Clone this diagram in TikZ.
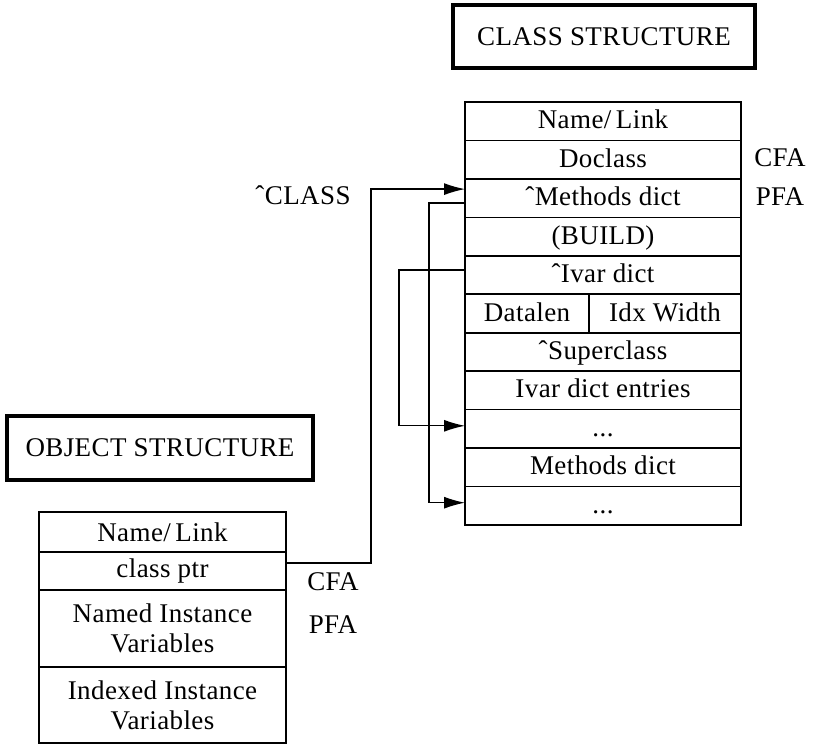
\documentclass[tikz,border=0pt]{standalone}
\usepackage{fontspec}
\setmainfont[LetterSpace=1.5]{Liberation Serif}
\usetikzlibrary{arrows.meta,calc}
\begin{document}
\begin{tikzpicture}[x=1pt,y=-1pt,
  font=\fontsize{27}{30}\selectfont,
  cell/.style={draw,line width=1.6pt,minimum width=276pt,minimum height=38.45pt,inner sep=0pt,outer sep=0pt,anchor=center,text height=19pt,text depth=4pt},
  ocell/.style={draw,line width=1.6pt,minimum width=247pt,inner sep=0pt,outer sep=0pt,anchor=center,align=center},
  titlebox/.style={draw,line width=3.5pt,inner sep=0pt,outer sep=0pt,anchor=center},
  lbl/.style={inner sep=0pt,anchor=center},
  conn/.style={line width=1.3pt,-{Latex[length=21pt,width=12pt]}}]
\useasboundingbox (0,0) rectangle (817,746);
\newcommand{\hatc}{\symbol{"02C6}}
% titles
\node[titlebox,minimum width=302pt,minimum height=63pt] (ctitle) at (604,36.5) {CLASS STRUCTURE};
\node[titlebox,minimum width=306pt,minimum height=64pt] (otitle) at (160,448) {OBJECT STRUCTURE};
% class structure
\node[cell] (cname)  at (603,121.2) {Name/\,Link};
\node[cell] (cdo)    at (603,159.7) {Doclass};
\node[cell] (cmeth)  at (603,198.1) {\hatc Methods dict};
\node[cell] (cbuild) at (603,236.6) {(BUILD)};
\node[cell] (civar)  at (603,275.0) {\hatc Ivar dict};
\node[cell,minimum width=124pt] (cdl) at (527,313.5) {Datalen};
\node[cell,minimum width=152pt] (ciw) at (665,313.5) {Idx Width};
\node[cell] (csup)   at (603,351.9) {\hatc Superclass};
\node[cell] (cent)   at (603,390.4) {Ivar dict entries};
\node[cell] (cdotsa) at (603,428.8) {...};
\node[cell] (cmd)    at (603,467.3) {Methods dict};
\node[cell] (cdotsb) at (603,505.7) {...};
\node[lbl] (ccfa) at (780,158) {CFA};
\node[lbl] (cpfa) at (780,197) {PFA};
\node[lbl] (cclass) at (303,195) {\hatc CLASS};
% object structure
\node[ocell,minimum height=40pt] (oname)  at (162.5,532) {Name/\,Link};
\node[ocell,minimum height=38pt] (optr)   at (162.5,571) {class ptr};
\node[ocell,minimum height=77pt] (onamed) at (162.5,628.5) {Named Instance\\Variables};
\node[ocell,minimum height=76pt] (oidx)   at (162.5,705) {Indexed Instance\\Variables};
\node[lbl] (ocfa) at (333,582) {CFA};
\node[lbl] (opfa) at (333,625) {PFA};
% connectors
\draw[conn] ($(optr.east)+(0,-8)$) -- ++(85,0) |- ($(cmeth.west)+(0,-9)$);
\draw[conn] ($(cmeth.west)+(0,5)$) -- ++(-36,0) |- ($(cdotsb.west)+(0,-3)$);
\draw[conn] ($(civar.west)+(0,-5)$) -- ++(-66,0) |- ($(cdotsa.west)+(0,-3)$);
\end{tikzpicture}
\end{document}
